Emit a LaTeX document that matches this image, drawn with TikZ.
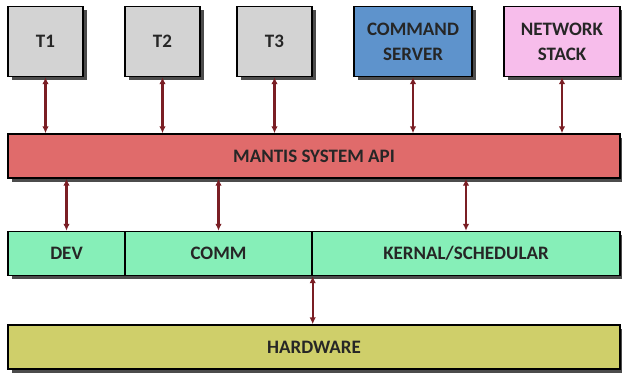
\documentclass[tikz,border=0pt]{standalone}
\usepackage{fontspec}
\setmainfont{Carlito}
\usepackage{xcolor}
\usetikzlibrary{shadows,arrows.meta}

\definecolor{taskgray}{HTML}{D3D3D3}
\definecolor{cmdblue}{HTML}{5E93CC}
\definecolor{netpink}{HTML}{F7BDEB}
\definecolor{apired}{HTML}{E06B6B}
\definecolor{layergreen}{HTML}{86EFB8}
\definecolor{hwolive}{HTML}{CFCF6A}
\definecolor{linkred}{HTML}{7A1E24}

\tikzset{
  block/.style={draw=black, line width=1.4pt, inner sep=0pt, align=center,
    text=black!85, font=\fontsize{19}{25}\selectfont\bfseries,
    drop shadow={shadow xshift=3.5pt, shadow yshift=-3.5pt, fill=black, opacity=0.7}},
  task/.style={block, minimum width=75pt, minimum height=70pt},
  bar/.style={block, minimum height=44pt},
  link/.style={linkred, line width=2.2pt, {Latex[length=7pt,width=6.5pt]}-{Latex[length=7pt,width=6.5pt]}},
}

\begin{document}
\begin{tikzpicture}[x=1pt, y=-1pt]
        \useasboundingbox (0, 0) rectangle (622, 376);

        % tasks and servers
        \node[task, fill=taskgray] (t1) at (45.5, 41.5) {T1};
        \node[task, fill=taskgray] (t2) at (162.5, 41.5) {T2};
        \node[task, fill=taskgray] (t3) at (274.5, 41.5) {T3};
        \node[task, fill=cmdblue, minimum width=118pt] (cmd) at (413, 41.5) {COMMAND\\SERVER};
        \node[task, fill=netpink, minimum width=116pt] (net) at (562, 41.5) {NETWORK\\STACK};

        % system api
        \node[bar, fill=apired, minimum width=612pt] (api) at (314, 156) {MANTIS SYSTEM API};

        % kernel layer
        \node[bar, fill=layergreen, minimum width=117pt] (dev) at (66.5, 253.5) {DEV};
        \node[bar, fill=layergreen, minimum width=187pt] (comm) at (218.5, 253.5) {COMM};
        \node[bar, fill=layergreen, minimum width=308pt] (kernal) at (466, 253.5) {KERNAL/SCHEDULAR};

        % hardware
        \node[bar, fill=hwolive, minimum width=612pt] (hw) at (314, 347) {HARDWARE};

        % links
        \foreach \t in {t1, t2, t3, cmd, net}
        {
        \draw[link] (\t.south) -- (\t.south |- api.north);
        }
        \foreach \l in {dev, comm, kernal}
        {
        \draw[link] (api.south -| \l.north) -- (\l.north);
        }
        \draw[link] (comm.south east) -- (comm.south east |- hw.north);

      \end{tikzpicture}
\end{document}
